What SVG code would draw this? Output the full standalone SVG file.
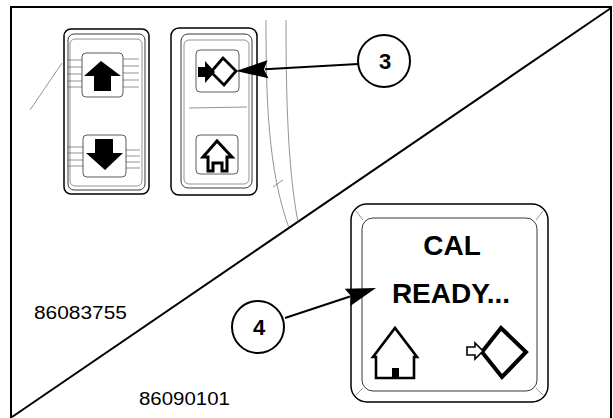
<svg xmlns="http://www.w3.org/2000/svg" width="613" height="418" viewBox="0 0 613 418">
  <style>
    .frame { stroke: #000; stroke-width: 2; fill: none; }
    .edge { stroke: #000; stroke-width: 1.5; fill: #fff; }
    .thin { stroke: #222; stroke-width: 0.9; fill: none; }
    .faint { stroke: #666; stroke-width: 0.7; fill: none; }
    .key { stroke: #333; stroke-width: 0.8; fill: #fff; }
    .glyph { fill: #000; stroke: none; }
    .icon { stroke: #000; fill: #fff; stroke-linejoin: miter; }
    .lead { stroke: #000; stroke-width: 2; fill: none; }
    .head { fill: #000; stroke: none; }
    .bubble { stroke: #000; stroke-width: 2; fill: #fff; }
    .num { font-family: "Liberation Sans", Arial, sans-serif; font-weight: bold; font-size: 22px; text-anchor: middle; fill: #000; }
    .lcd { font-family: "Liberation Sans", Arial, sans-serif; font-weight: bold; font-size: 28px; text-anchor: middle; fill: #000; }
    .ref { font-family: "Liberation Sans", Arial, sans-serif; font-size: 18px; fill: #000; }
  </style>

  <rect width="613" height="418" fill="#fff"/>

  <!-- outer frame and split line between the two views -->
  <g id="frame">
    <line class="frame" x1="10" y1="7" x2="612" y2="7"/>
    <line class="frame" x1="11" y1="6" x2="11" y2="418"/>
    <line class="frame" x1="611" y1="6" x2="611" y2="418"/>
    <line class="frame" x1="12" y1="417" x2="611" y2="8"/>
  </g>

  <!-- console background contours -->
  <g id="console">
    <line class="faint" x1="30" y1="110" x2="62" y2="63"/>
    <path class="faint" d="M266,20 C266,100 268,170 289,228"/>
    <path class="faint" d="M286,20 C286,100 288,170 298,222"/>
    <line class="faint" x1="273" y1="187" x2="283" y2="180"/>
  </g>

  <!-- up / down rocker switch -->
  <g id="switch-updown">
    <rect class="edge" x="64" y="29" width="85" height="165" rx="7"/>
    <rect class="thin" x="68" y="34" width="77" height="156" rx="6"/>
    <rect class="faint" x="70" y="39" width="72" height="147" rx="5"/>
    <g class="faint">
      <line x1="67" y1="60" x2="82" y2="60"/><line x1="67" y1="67" x2="82" y2="67"/>
      <line x1="67" y1="74" x2="82" y2="74"/><line x1="67" y1="81" x2="82" y2="81"/>
      <line x1="67" y1="87" x2="82" y2="87"/>
      <line x1="123" y1="59" x2="139" y2="59"/><line x1="123" y1="66" x2="139" y2="66"/>
      <line x1="123" y1="73" x2="139" y2="73"/><line x1="123" y1="80" x2="139" y2="80"/>
      <line x1="123" y1="87" x2="139" y2="87"/>
      <line x1="67" y1="147" x2="83" y2="147"/><line x1="67" y1="153" x2="83" y2="153"/>
      <line x1="67" y1="160" x2="83" y2="160"/><line x1="67" y1="166" x2="83" y2="166"/>
      <line x1="126" y1="150" x2="140" y2="150"/><line x1="126" y1="156" x2="140" y2="156"/>
      <line x1="126" y1="162" x2="140" y2="162"/><line x1="126" y1="168" x2="140" y2="168"/>
    </g>
    <rect class="key" x="82" y="53" width="41" height="44" rx="4"/>
    <polygon class="glyph" points="101,61 121,76 111,76 111,91 94,91 94,76 84,76"/>
    <rect class="key" x="83" y="135" width="43" height="42" rx="4"/>
    <polygon class="glyph" points="95,139 113,139 113,153 123,153 105,170 86,153 95,153"/>
  </g>

  <!-- enter / home rocker switch -->
  <g id="switch-enter-home">
    <rect class="edge" x="171" y="28" width="86" height="167" rx="8"/>
    <rect class="thin" x="181" y="34" width="71" height="154" rx="7"/>
    <rect class="faint" x="184" y="40" width="65" height="144" rx="5"/>
    <line class="faint" x1="189" y1="108" x2="247" y2="107"/>
    <rect class="key" x="196" y="50" width="43" height="42" rx="4"/>
    <polygon class="icon" stroke-width="2.8" points="211,72 223,58 236,71 224,85"/>
    <polygon class="glyph" points="198,67 205,67 205,61 215,72 205,83 205,77 198,77"/>
    <rect class="key" x="196" y="135" width="42" height="39" rx="4"/>
    <path class="icon" stroke-width="3" d="M208,171 V157 H203 L217,141 L232,157 H227 V171 H222 V163 H213 V171 Z"/>
  </g>

  <!-- display panel -->
  <g id="display">
    <rect class="edge" x="351" y="204" width="197" height="198" rx="16"/>
    <rect class="thin" stroke-width="1.2" x="362" y="218" width="175" height="173" rx="11"/>
    <g class="faint">
      <line x1="356" y1="211" x2="363" y2="220"/>
      <line x1="543" y1="211" x2="536" y2="220"/>
      <line x1="356" y1="395" x2="363" y2="388"/>
      <line x1="543" y1="395" x2="536" y2="388"/>
    </g>
    <text class="lcd" x="452" y="255">CAL</text>
    <text class="lcd" x="451" y="303">READY...</text>
    <path class="icon" stroke-width="2.6" d="M376,378 V357 H373 L395,328 L417,357 H414 V378 Z"/>
    <rect class="glyph" x="392" y="368" width="7" height="10"/>
    <polygon class="icon" stroke-width="4" points="482,352 501,328 526,352 502,377"/>
    <polygon class="icon" stroke-width="1.6" points="467,347 475,347 475,343 483,351 475,359 475,355 467,355"/>
  </g>

  <!-- callout leaders -->
  <g id="connectors">
    <line class="lead" x1="358" y1="64" x2="265" y2="69.3"/>
    <path class="head" d="M236,71 L267.5,60.2 L264,69.4 L268.5,78.2 Z"/>
    <line class="lead" x1="285" y1="318" x2="350" y2="296.5"/>
    <path class="head" d="M376,288 L344.7,288.8 L351,296 L350.3,306 Z"/>
  </g>

  <g id="callout-3">
    <circle class="bubble" cx="384" cy="61" r="26"/>
    <text class="num" x="385" y="69">3</text>
  </g>

  <g id="callout-4">
    <circle class="bubble" cx="258" cy="327" r="26"/>
    <text class="num" x="259" y="335">4</text>
  </g>

  <!-- figure reference numbers -->
  <g id="ref-upper">
    <text class="ref" x="34" y="319" textLength="93" lengthAdjust="spacingAndGlyphs">86083755</text>
  </g>
  <g id="ref-lower">
    <text class="ref" x="139" y="405" textLength="91" lengthAdjust="spacingAndGlyphs">86090101</text>
  </g>
</svg>
